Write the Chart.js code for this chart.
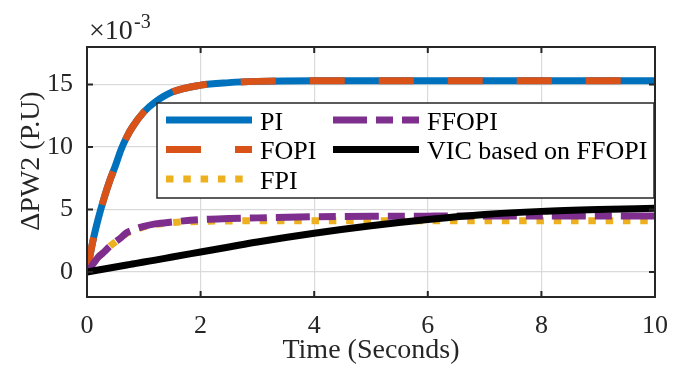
<!DOCTYPE html>
<html>
<head>
<meta charset="utf-8">
<script src="https://cdn.jsdelivr.net/npm/chart.js@4"></script>
<style>
  html, body { margin: 0; padding: 0; background: #fff; }
  #wrap { width: 688px; height: 365px; }
</style>
</head>
<body>
<div id="wrap"><canvas id="chart" width="688" height="365"></canvas></div>
<script>
// --- data (values are x10^-3) ---
const timeSec = [0, 0.1, 0.2, 0.3, 0.4, 0.5, 0.6, 0.7, 0.8, 1.0, 1.2, 1.5, 2, 2.5, 3, 4, 5, 6, 7, 8, 9, 10];
const piVals    = [0, 2.4, 4.3, 5.9, 7.3, 8.5, 9.8, 10.8, 11.6, 12.8, 13.6, 14.4, 14.95, 15.15, 15.25, 15.3, 15.3, 15.3, 15.3, 15.3, 15.3, 15.3];
const fopiVals  = [0, 2.4, 4.3, 5.9, 7.3, 8.5, 9.8, 10.8, 11.6, 12.8, 13.6, 14.4, 14.95, 15.15, 15.25, 15.3, 15.3, 15.3, 15.3, 15.3, 15.3, 15.3];
const fpiVals   = [0, 0.6, 1.2, 1.6, 2.05, 2.4, 2.75, 3.1, 3.3, 3.6, 3.8, 3.95, 4.05, 4.08, 4.1, 4.1, 4.1, 4.1, 4.1, 4.1, 4.1, 4.1];
const ffopiVals = [0, 0.6, 1.2, 1.6, 2.05, 2.4, 2.75, 3.15, 3.35, 3.65, 3.85, 4.0, 4.2, 4.28, 4.33, 4.42, 4.46, 4.47, 4.48, 4.48, 4.48, 4.48];
const vicVals   = [0, 0.08, 0.16, 0.24, 0.32, 0.4, 0.48, 0.56, 0.64, 0.8, 0.95, 1.2, 1.6, 2.0, 2.4, 3.1, 3.7, 4.2, 4.6, 4.85, 5.0, 5.1];

const xTicks = [0, 2, 4, 6, 8, 10];
const yTicks = [0, 5, 10, 15];
const seriesNames = ['PI', 'FOPI', 'FPI', 'FFOPI', 'VIC based on FFOPI'];

const FONT = '"Liberation Serif", "Times New Roman", serif';
const INK = '#262626';
const COLORS = { PI: '#0072BD', FOPI: '#D95319', FPI: '#EDB120', FFOPI: '#7E2F8E', VIC: '#000000' };

function pts(vals) { return timeSec.map((t, i) => ({ x: t, y: vals[i] })); }

const LW = 7;
const datasets = [
    { label: seriesNames[0], data: pts(piVals), borderColor: COLORS.PI, borderWidth: LW, order: 5 },
    { label: seriesNames[1], data: pts(fopiVals), borderColor: COLORS.FOPI, borderWidth: LW, borderDash: [35, 34], order: 4 },
    { label: seriesNames[2], data: pts(fpiVals), borderColor: COLORS.FPI, borderWidth: LW, borderDash: [7.5, 9.8], order: 3 },
    { label: seriesNames[3], data: pts(ffopiVals), borderColor: COLORS.FFOPI, borderWidth: LW, borderDash: [34, 9, 17, 9], order: 2 },
    { label: seriesNames[4], data: pts(vicVals), borderColor: COLORS.VIC, borderWidth: LW, order: 1 }
].map(d => Object.assign(d, { pointRadius: 0, fill: false, cubicInterpolationMode: 'monotone' }));

// --- frame, inward ticks, legend and titles ---
const decorations = {
    id: 'decorations',
    afterDatasetsDraw(chart) {
        const ctx = chart.ctx, a = chart.chartArea;
        const xs = chart.scales.x, ys = chart.scales.y;
        ctx.save();
        // inward tick marks on all four sides
        ctx.strokeStyle = INK; ctx.lineWidth = 2;
        ctx.beginPath();
        xTicks.forEach(v => {
            const px = xs.getPixelForValue(v);
            ctx.moveTo(px, a.bottom); ctx.lineTo(px, a.bottom - 6);
            ctx.moveTo(px, a.top); ctx.lineTo(px, a.top + 6);
        });
        yTicks.forEach(v => {
            const py = ys.getPixelForValue(v);
            ctx.moveTo(a.left, py); ctx.lineTo(a.left + 6, py);
            ctx.moveTo(a.right, py); ctx.lineTo(a.right - 6, py);
        });
        ctx.stroke();
        ctx.strokeRect(a.left, a.top, a.right - a.left, a.bottom - a.top);

        // legend box
        const box = { x: 157, y: 103, w: 497, h: 95 };
        ctx.fillStyle = '#fff';
        ctx.fillRect(box.x, box.y, box.w, box.h);
        ctx.lineWidth = 1.5; ctx.strokeStyle = INK;
        ctx.strokeRect(box.x, box.y, box.w, box.h);

        const rows = [120, 149.5, 179];
        const items = [
            { ds: 0, x: 166, row: 0 }, { ds: 1, x: 166, row: 1 }, { ds: 2, x: 166, row: 2 },
            { ds: 3, x: 333, row: 0 }, { ds: 4, x: 333, row: 1 }
        ];
        ctx.font = '26px ' + FONT;
        ctx.textBaseline = 'alphabetic';
        ctx.textAlign = 'left';
        items.forEach(it => {
            const d = chart.data.datasets[it.ds];
            const y = rows[it.row];
            ctx.save();
            ctx.beginPath();
            ctx.rect(it.x, y - 6, 86, 12);
            ctx.clip();
            ctx.strokeStyle = d.borderColor;
            ctx.lineWidth = LW;
            ctx.setLineDash(d.borderDash || []);
            ctx.beginPath();
            ctx.moveTo(it.x, y); ctx.lineTo(it.x + 86, y);
            ctx.stroke();
            ctx.restore();
            ctx.fillStyle = '#000';
            ctx.fillText(d.label, it.x + 94, y + 9.5);
        });
        ctx.restore();
    },
    afterDraw(chart) {
        const ctx = chart.ctx, a = chart.chartArea;
        ctx.save();
        ctx.fillStyle = INK;
        ctx.font = '28px ' + FONT;
        ctx.textAlign = 'center';
        ctx.textBaseline = 'alphabetic';
        ctx.fillText('Time (Seconds)', (a.left + a.right) / 2, 358);

        ctx.translate(39, 161);
        ctx.rotate(-Math.PI / 2);
        ctx.fillText('\u0394PW2 (P.U)', 0, 0);
        ctx.restore();

        ctx.save();
        ctx.fillStyle = INK;
        ctx.textAlign = 'left';
        ctx.font = '28px ' + FONT;
        ctx.fillText('\u00d710', 89, 39);
        ctx.font = '20px ' + FONT;
        ctx.fillText('-3', 134, 28);
        ctx.restore();
    }
};

const tickFont = { family: FONT, size: 26 };

new Chart(document.getElementById('chart').getContext('2d'), {
    type: 'line',
    data: { datasets: datasets },
    options: {
        responsive: false,
        animation: false,
        layout: { padding: { top: 47, right: 33, left: 0, bottom: 0 } },
        plugins: { legend: { display: false }, tooltip: { enabled: false } },
        scales: {
            x: {
                type: 'linear', min: 0, max: 10,
                afterBuildTicks: s => { s.ticks = xTicks.map(v => ({ value: v })); },
                afterFit: s => { s.height = 68; },
                grid: { color: '#dadada', lineWidth: 1.2, drawTicks: false },
                border: { display: false },
                ticks: { color: INK, font: tickFont, padding: 14, maxRotation: 0 }
            },
            y: {
                min: -2, max: 18,
                afterBuildTicks: s => { s.ticks = yTicks.map(v => ({ value: v })); },
                afterFit: s => { s.width = 87; },
                grid: { color: '#dadada', lineWidth: 1.2, drawTicks: false },
                border: { display: false },
                ticks: { color: INK, font: tickFont, padding: 14 }
            }
        }
    },
    plugins: [decorations]
});
</script>
</body>
</html>
